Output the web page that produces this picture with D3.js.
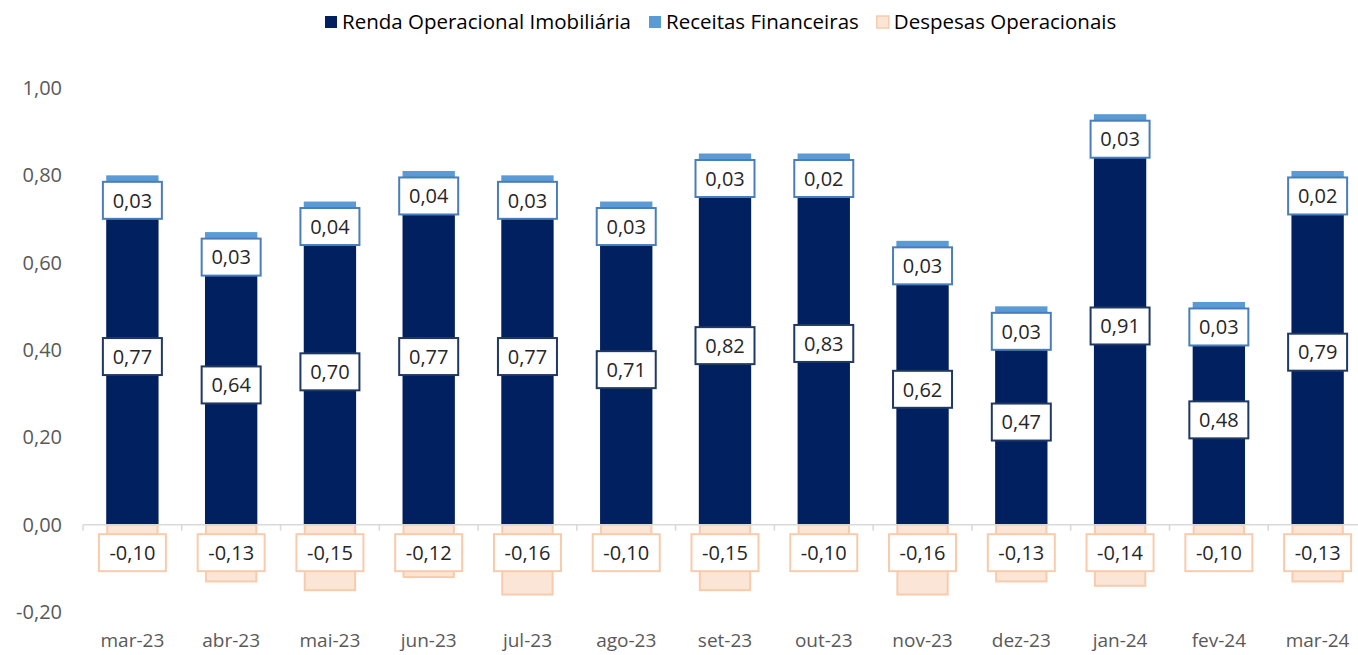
<!DOCTYPE html>
<html>
<head>
<meta charset="utf-8">
<script src="https://cdn.jsdelivr.net/npm/d3@7"></script>
<style>
  body { margin: 0; background: #fff; }
  text { font-family: "Open Sans", sans-serif; }
</style>
</head>
<body>
<svg width="1358" height="655"></svg>
<script>
var months = ["mar-23", "abr-23", "mai-23", "jun-23", "jul-23", "ago-23", "set-23", "out-23", "nov-23", "dez-23", "jan-24", "fev-24", "mar-24"];
var renda = [0.77, 0.64, 0.70, 0.77, 0.77, 0.71, 0.82, 0.83, 0.62, 0.47, 0.91, 0.48, 0.79];
var receitas = [0.03, 0.03, 0.04, 0.04, 0.03, 0.03, 0.03, 0.02, 0.03, 0.03, 0.03, 0.03, 0.02];
var despesas = [-0.10, -0.13, -0.15, -0.12, -0.16, -0.10, -0.15, -0.10, -0.16, -0.13, -0.14, -0.10, -0.13];
var yTicks = [-0.20, 0, 0.20, 0.40, 0.60, 0.80, 1.00];
var seriesNames = ["Renda Operacional Imobiliária", "Receitas Financeiras", "Despesas Operacionais"];

var svg = d3.select("svg");
var fmt = function(v) { return v.toFixed(2).replace(".", ","); };

var x = d3.scaleBand().domain(months).range([83, 1367]).paddingInner(0.47).paddingOuter(0.235);
var y = d3.scaleLinear().domain([-0.20, 1.00]).range([612, 88]);

// y labels
svg.append("g").selectAll("text")
  .data(yTicks)
  .enter().append("text")
  .attr("x", 62)
  .attr("y", function(d) { return y(d); })
  .attr("dy", "0.35em")
  .attr("text-anchor", "end")
  .attr("fill", "#595959")
  .style("font-size", "20px")
  .text(fmt);

// x labels
svg.append("g").selectAll("text")
  .data(months)
  .enter().append("text")
  .attr("x", function(d) { return x(d) + x.bandwidth() / 2; })
  .attr("y", 640)
  .attr("dy", "0.35em")
  .attr("text-anchor", "middle")
  .attr("fill", "#595959")
  .style("font-size", "19px")
  .text(function(d) { return d; });

var data = months.map(function(m, i) {
  return { m: m, r: renda[i], f: receitas[i], d: despesas[i] };
});

var bars = svg.append("g");

// despesas (negative)
bars.selectAll(".desp")
  .data(data)
  .enter().append("rect")
  .attr("x", function(d) { return x(d.m) + 1; })
  .attr("width", x.bandwidth() - 2)
  .attr("y", y(0))
  .attr("height", function(d) { return y(d.d) - y(0); })
  .attr("fill", "#FBE5D6")
  .attr("stroke", "#F8CBAD")
  .attr("stroke-width", 2);

// renda
bars.selectAll(".renda")
  .data(data)
  .enter().append("rect")
  .attr("x", function(d) { return x(d.m); })
  .attr("width", x.bandwidth())
  .attr("y", function(d) { return y(d.r); })
  .attr("height", function(d) { return y(0) - y(d.r); })
  .attr("fill", "#002060");

// receitas
bars.selectAll(".rec")
  .data(data)
  .enter().append("rect")
  .attr("x", function(d) { return x(d.m); })
  .attr("width", x.bandwidth())
  .attr("y", function(d) { return y(d.r + d.f); })
  .attr("height", function(d) { return y(d.r) - y(d.r + d.f); })
  .attr("fill", "#5B9BD5");

// zero axis
svg.append("line")
  .attr("x1", 83).attr("x2", 1367)
  .attr("y1", y(0)).attr("y2", y(0))
  .attr("stroke", "#D9D9D9").attr("stroke-width", 1.5);
svg.append("g").selectAll("line")
  .data(d3.range(months.length + 1))
  .enter().append("line")
  .attr("x1", function(i) { return 83 + i * x.step(); })
  .attr("x2", function(i) { return 83 + i * x.step(); })
  .attr("y1", y(0)).attr("y2", y(0) + 6)
  .attr("stroke", "#D9D9D9").attr("stroke-width", 1.5);

// labels
function addLabels(getVal, getY, stroke, w) {
  var g = svg.append("g").selectAll("g")
    .data(data)
    .enter().append("g")
    .attr("transform", function(d) {
      return "translate(" + (x(d.m) + x.bandwidth() / 2) + "," + getY(d) + ")";
    });
  g.append("rect")
    .attr("x", -w / 2).attr("y", -18.5)
    .attr("width", w).attr("height", 37)
    .attr("fill", "#fff")
    .attr("stroke", stroke).attr("stroke-width", 2);
  g.append("text")
    .attr("text-anchor", "middle")
    .attr("dy", "0.36em")
    .attr("fill", "#262626")
    .style("font-size", "20px")
    .text(function(d) { return fmt(getVal(d)); });
}

addLabels(function(d) { return d.r; }, function(d) { return y(d.r / 2); }, "#1F3864", 59);
addLabels(function(d) { return d.f; }, function(d) { return y(d.r + d.f) + 25; }, "#4A7EBB", 59);
addLabels(function(d) { return d.d; }, function(d) { return y(0) + 28; }, "#F8CBAD", 67);

// legend
var legend = svg.append("g");
var items = [
  { name: seriesNames[0], fill: "#002060", stroke: "none" },
  { name: seriesNames[1], fill: "#5B9BD5", stroke: "none" },
  { name: seriesNames[2], fill: "#FBE5D6", stroke: "#F8CBAD" }
];
var lx = 325;
items.forEach(function(it) {
  legend.append("rect")
    .attr("x", lx).attr("y", 16)
    .attr("width", 12).attr("height", 12)
    .attr("fill", it.fill)
    .attr("stroke", it.stroke).attr("stroke-width", 1.5);
  var t = legend.append("text")
    .attr("x", lx + 17).attr("y", 22)
    .attr("dy", "0.35em")
    .attr("fill", "#000")
    .style("font-size", "20.5px")
    .text(it.name);
  lx += 17 + t.node().getComputedTextLength() + 18;
});
</script>
</body>
</html>
